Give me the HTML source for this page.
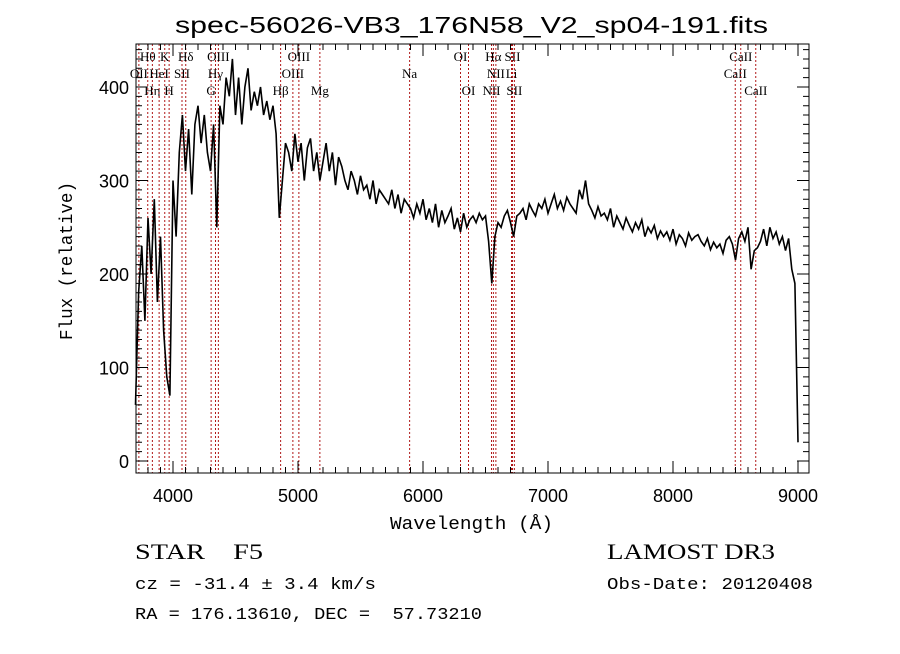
<!DOCTYPE html>
<html><head><meta charset="utf-8"><style>
body{margin:0;background:#fff}
svg text{fill:#000;white-space:pre}
.sans{font-family:"Liberation Sans",sans-serif}
.mono{font-family:"Liberation Mono",monospace}
.serif{font-family:"Liberation Serif",serif}
.ln{font-family:"Liberation Serif",serif;font-size:13px}
</style></head><body>
<svg id="chart" width="900" height="649" viewBox="0 0 900 649" xmlns="http://www.w3.org/2000/svg">
<rect width="900" height="649" fill="#fff"/>
<text class="sans" x="175" y="33" font-size="23" textLength="593" lengthAdjust="spacingAndGlyphs">spec-56026-VB3_176N58_V2_sp04-191.fits</text>
<g id="lines"></g>
<g id="spec"></g>
<g id="axes"></g>
<text class="mono" x="390" y="529" font-size="18" textLength="163" lengthAdjust="spacingAndGlyphs">Wavelength (Å)</text>
<text class="mono" transform="translate(72,340) rotate(-90)" font-size="18" textLength="158" lengthAdjust="spacingAndGlyphs">Flux (relative)</text>
<text class="serif" x="135" y="559" font-size="22" textLength="128" lengthAdjust="spacingAndGlyphs">STAR    F5</text>
<text class="mono" x="135" y="589" font-size="17" textLength="241" lengthAdjust="spacingAndGlyphs">cz = -31.4 ± 3.4 km/s</text>
<text class="mono" x="135" y="619" font-size="17" textLength="347" lengthAdjust="spacingAndGlyphs">RA = 176.13610, DEC =  57.73210</text>
<text class="serif" x="607" y="559" font-size="22" textLength="168" lengthAdjust="spacingAndGlyphs">LAMOST DR3</text>
<text class="mono" x="607" y="589" font-size="17" textLength="206" lengthAdjust="spacingAndGlyphs">Obs-Date: 20120408</text>
</svg>
<script>
const wlStart = 3700;
const wlStep = 25;
const flux = [
60,180,230,150,260,200,280,170,240,140,
90,70,300,240,330,370,310,355,285,360,
380,340,370,330,310,360,250,380,360,410,
390,430,370,410,360,400,420,375,395,380,
400,370,385,365,380,350,260,300,340,330,
310,350,320,340,300,335,345,310,330,300,
320,340,310,330,295,325,315,300,290,310,
300,285,305,290,295,280,300,275,290,285,
280,275,290,270,285,265,280,275,270,260,
275,265,280,258,270,255,275,250,268,255,
262,270,248,260,245,265,250,258,262,255,
265,258,262,235,190,240,255,250,262,268,
255,240,262,265,270,258,275,268,262,275,
270,280,265,275,285,270,278,268,282,275,
270,265,290,280,300,275,268,260,272,262,
265,258,270,250,262,255,248,260,252,245,
255,248,258,240,250,244,252,238,246,240,
245,236,248,232,242,238,230,244,236,240,
242,235,230,238,226,234,228,232,222,236,
240,232,215,238,245,235,250,205,225,228,
235,248,230,250,238,245,232,240,225,238,
205,190,20];
const lineWl = [3727,3798,3835,3889,3934,3969,4072,4102,4305,4340,4363,4861,4959,5007,5175,5893,6300,6364,6548,6563,6583,6708,6716,6731,8498,8542,8662];
const lineNames = ["OII","Hθ","Hη","HeI","K","H","SII","Hδ","G","Hγ","OIII","Hβ","OIII","OIII","Mg","Na","OI","OI","NII","Hα","NII","Li","SII","SII","CaII","CaII","CaII"];
const lineRow = [1,0,2,1,0,2,1,0,2,1,0,2,1,0,2,1,0,2,2,0,1,1,0,2,1,0,2];
const xTicks = [4000,5000,6000,7000,8000,9000];
const yTicks = [0,100,200,300,400];

const L=136,R=809,T=44,B=473;
const X = w => 135.5 + (w-3700)*0.125;
const Y = f => 461 - f*0.935;
const NS="http://www.w3.org/2000/svg";
function mk(tag, parent){const e=document.createElementNS(NS,tag);parent.appendChild(e);return e;}

const gl=document.getElementById('lines');
lineWl.forEach((w,i)=>{
  const l=mk('line',gl);
  
  
  l.setAttribute('x1',X(w));l.setAttribute('x2',X(w));l.setAttribute('y1',T);l.setAttribute('y2',B);
  l.setAttribute('stroke','#b01818');l.setAttribute('stroke-width','1');l.setAttribute('stroke-dasharray','2,2');
  const t=mk('text',gl);
  
  
  t.setAttribute('class','ln');
  t.setAttribute('x',X(w));t.setAttribute('y',61+lineRow[i]*17);t.setAttribute('text-anchor','middle');
  t.textContent=lineNames[i];
});

const gs=document.getElementById('spec');
const p=mk('polyline',gs);


p.setAttribute('points',flux.map((f,i)=>X(wlStart+i*wlStep).toFixed(1)+','+Y(f).toFixed(1)).join(' '));
p.setAttribute('fill','none');p.setAttribute('stroke','#000');p.setAttribute('stroke-width','1.6');

const ga=document.getElementById('axes');
const fr=mk('rect',ga);


fr.setAttribute('x',L);fr.setAttribute('y',T);fr.setAttribute('width',R-L);fr.setAttribute('height',B-T);
fr.setAttribute('fill','none');fr.setAttribute('stroke','#000');
let d='';
for(let w=3800;w<=9000;w+=100){const x=X(w),len=(w%1000===0)?12:6;d+=`M${x},${B}v${-len}M${x},${T}v${len}`;}
for(let f=0;f<=440;f+=10){const y=Y(f),len=(f%100===0)?12:6;d+=`M${L},${y}h${len}M${R},${y}h${-len}`;}
const tk=mk('path',ga);


tk.setAttribute('d',d);tk.setAttribute('stroke','#000');
xTicks.forEach(w=>{const t=mk('text',ga);
  
  
  t.setAttribute('class','sans');
  t.setAttribute('x',X(w));t.setAttribute('y',502);t.setAttribute('font-size','18');t.setAttribute('text-anchor','middle');t.textContent=w;});
yTicks.forEach(f=>{const t=mk('text',ga);
  
  
  t.setAttribute('class','sans');
  t.setAttribute('x',129);t.setAttribute('y',Y(f)+7);t.setAttribute('font-size','18');t.setAttribute('text-anchor','end');t.textContent=f;});
</script>
</body></html>
